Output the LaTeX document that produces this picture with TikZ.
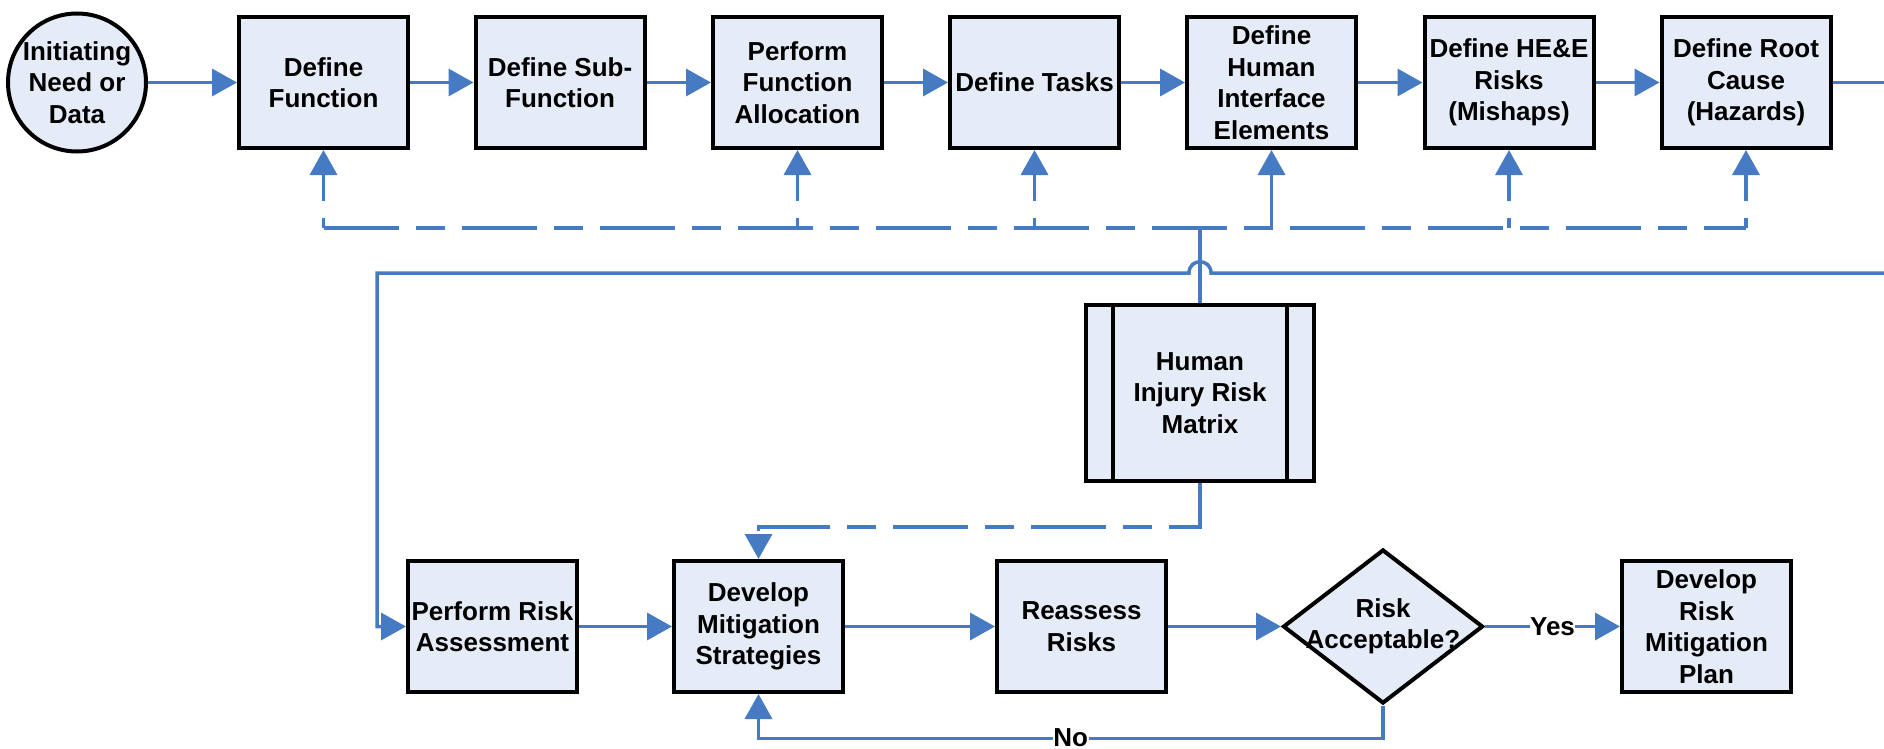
\documentclass[tikz,border=0pt]{standalone}
\usepackage{fontspec}
\setmainfont{Liberation Sans}
\usetikzlibrary{arrows.meta,shapes.geometric,calc}
\definecolor{lnblue}{RGB}{70,123,196}
\definecolor{boxfill}{RGB}{230,236,247}
\begin{document}
\begin{tikzpicture}[x=1pt,y=-1pt,
  txt/.style={font=\fontsize{26}{31.5}\selectfont\bfseries, align=center},
  procbox/.style={txt, draw=black, line width=4pt, fill=boxfill, minimum width=169pt, minimum height=131pt, inner sep=1.5pt},
  startcirc/.style={txt, circle, draw=black, line width=4pt, fill=boxfill, minimum size=138pt, inner sep=0pt},
  matbox/.style={txt, draw=black, line width=4pt, fill=boxfill, minimum width=228pt, minimum height=176pt, inner sep=2pt},
  decis/.style={diamond, draw=black, line width=4pt, fill=boxfill, minimum width=200pt, minimum height=154pt, inner sep=0pt},
  conn/.style={draw=lnblue, line width=3.5pt},
  flow/.style={conn, -{Triangle[length=25pt,width=27pt]}},
  dashconn/.style={conn, dash pattern=on 75pt off 17pt on 29pt off 17pt},
  dashflow/.style={flow, dash pattern=on 75pt off 17pt on 29pt off 17pt},
  dashup/.style={flow, dash pattern=on 10pt off 17pt on 80pt off 17pt},
  lbl/.style={txt, fill=white, inner sep=0.5pt}
]
\useasboundingbox (0,0) rectangle (1884,749);

% top row
\node[startcirc] (init) at (77,82.5) {Initiating\\Need or\\Data};
\node[procbox] (f1) at (323.5,82.5) {Define\\Function};
\node[procbox] (f2) at (560,82.5) {Define Sub-\\Function};
\node[procbox] (f3) at (797.5,82.5) {Perform\\Function\\Allocation};
\node[procbox] (f4) at (1034.5,82.5) {Define Tasks};
\node[procbox] (f5) at (1271.5,82.5) {Define\\Human\\Interface\\Elements};
\node[procbox] (f6) at (1509,82.5) {Define HE\&E\\Risks\\(Mishaps)};
\node[procbox] (f7) at (1746,82.5) {Define Root\\Cause\\(Hazards)};

% matrix
\node[matbox] (m) at (1200,393) {Human\\Injury Risk\\Matrix};
\draw[black, line width=4pt] ([xshift=29pt]m.north west) -- ([xshift=29pt]m.south west);
\draw[black, line width=4pt] ([xshift=-29pt]m.north east) -- ([xshift=-29pt]m.south east);

% bottom row
\node[procbox] (pr) at (492.5,626.5) {Perform Risk\\Assessment};
\node[procbox] (dm) at (758.5,626.5) {Develop\\Mitigation\\Strategies};
\node[procbox] (ra) at (1081.5,626.5) {Reassess\\Risks};
\node[decis] (dd) at (1383,626.5) {};
\node[txt, inner sep=0pt] (ddt) at (dd) {Risk\\Acceptable?};
\node[procbox] (plan) at (1706.5,626.5) {Develop\\Risk\\Mitigation\\Plan};

\coordinate (bus) at (0,228);
\coordinate (edgeA) at (1884,82.5);
\coordinate (edgeB) at (1884,273);
\coordinate (lcorner) at (377,273);

% top flow
\draw[flow] (init) -- (f1);
\draw[flow] (f1) -- (f2);
\draw[flow] (f2) -- (f3);
\draw[flow] (f3) -- (f4);
\draw[flow] (f4) -- (f5);
\draw[flow] (f5) -- (f6);
\draw[flow] (f6) -- (f7);
\draw[conn] (f7) -- (edgeA);

% feedback bus
\draw[dashconn] (f1.south |- bus) -- (f7.south |- bus);
\draw[dashup] (f1.south |- bus) -- (f1.south);
\draw[dashup] (f3.south |- bus) -- (f3.south);
\draw[dashup] (f4.south |- bus) -- (f4.south);
\draw[flow] (f5.south |- bus) -- (f5.south);
\draw[dashup] (f6.south |- bus) -- (f6.south);
\draw[dashup] (f7.south |- bus) -- (f7.south);
\draw[conn] (m.north) -- (m.north |- bus);

% long return line with jump
\draw[flow] (edgeB) -- ($(m.north |- edgeB)+(11,0)$) .. controls +(0,-15) and +(0,-15) .. ($(m.north |- edgeB)+(-11,0)$) -- (lcorner) |- (pr.west);

% matrix to mitigation
\draw[dashflow] (m.south) -- ++(0,44) -| (dm.north);

% bottom flow
\draw[flow] (pr) -- (dm);
\draw[flow] (dm) -- (ra);
\draw[flow] (ra) -- (dd.west);
\draw[flow] (dd.east) -- node[lbl] {Yes} (plan.west);
\draw[flow] (dd.south) -- ++(0,33) -| node[lbl, pos=0.25, yshift=1pt] {No} (dm.south);
\end{tikzpicture}
\end{document}
